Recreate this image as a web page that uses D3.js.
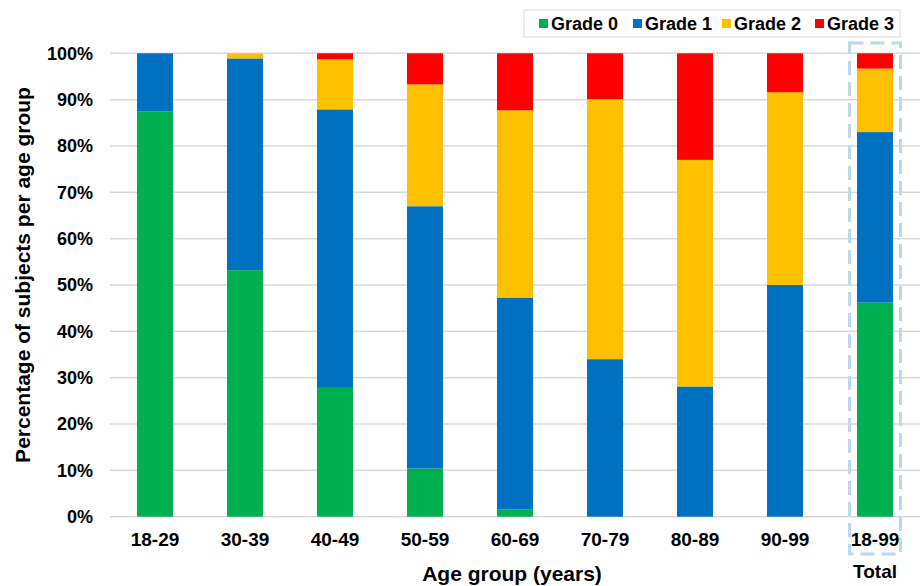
<!DOCTYPE html>
<html>
<head>
<meta charset="utf-8">
<script src="https://cdn.jsdelivr.net/npm/d3@7"></script>
<style>
  html, body { margin: 0; padding: 0; background: #fff; }
  svg { display: block; font-family: "Liberation Sans", Arial, sans-serif; }
</style>
</head>
<body>
<svg id="chart" width="921" height="586"></svg>
<script>
// ---- data ----
const categories = ["18-29", "30-39", "40-49", "50-59", "60-69", "70-79", "80-89", "90-99", "18-99"];
const seriesNames = ["Grade 0", "Grade 1", "Grade 2", "Grade 3"];
const grade0 = [87.5, 53.2, 27.8, 10.4, 1.6, 0, 0, 0, 46.2];
const grade1 = [12.5, 45.7, 60.1, 56.6, 45.7, 34.0, 28.1, 50.0, 36.8];
const grade2 = [0, 1.1, 10.8, 26.3, 40.4, 56.1, 48.9, 41.6, 13.7];
const grade3 = [0, 0, 1.3, 6.7, 12.3, 9.9, 23.0, 8.4, 3.3];
const yTicks = [0, 10, 20, 30, 40, 50, 60, 70, 80, 90, 100];
const colors = ["#00B050", "#0070C0", "#FFC000", "#FF0000"];
const xTitle = "Age group (years)";
const yTitle = "Percentage of subjects per age group";
const totalLabel = "Total";

(function () {
// ---- build table ----
const rows = categories.map((c, i) => ({
  cat: c, "Grade 0": grade0[i], "Grade 1": grade1[i], "Grade 2": grade2[i], "Grade 3": grade3[i]
}));
const stacked = d3.stack().keys(seriesNames)(rows);

const svg = d3.select("#chart");
const pLeft = 110, pRight = 920, pTop = 53.3, pBottom = 516.7;

const x = d3.scaleBand().domain(categories).range([pLeft, pRight]).paddingInner(0.6).paddingOuter(0.3);
const y = d3.scaleLinear().domain([0, 100]).range([pBottom, pTop]);
const color = d3.scaleOrdinal().domain(seriesNames).range(colors);

// gridlines
svg.append("g")
  .selectAll("line").data(yTicks).join("line")
  .attr("x1", pLeft).attr("x2", pRight)
  .attr("y1", d => y(d)).attr("y2", d => y(d))
  .attr("stroke", "#d9d9d9").attr("stroke-width", 1.5);

// bars
svg.append("g").selectAll("g").data(stacked).join("g")
  .attr("fill", d => color(d.key))
  .selectAll("rect").data(d => d).join("rect")
  .attr("x", d => x(d.data.cat))
  .attr("width", x.bandwidth())
  .attr("y", d => y(d[1]))
  .attr("height", d => Math.max(0, y(d[0]) - y(d[1])));

// y axis
const yAxis = d3.axisLeft(y).tickValues(yTicks).tickFormat(d => d + "%").tickSize(0).tickPadding(17);
const yg = svg.append("g").attr("transform", `translate(${pLeft},0)`).call(yAxis);
yg.select(".domain").remove();
yg.selectAll("text").attr("font-size", 18).attr("font-weight", "bold").attr("fill", "#000")
  .attr("font-family", "Liberation Sans, Arial, sans-serif");

// x axis
const xAxis = d3.axisBottom(x).tickSize(0).tickPadding(16);
const xg = svg.append("g").attr("transform", `translate(0,${pBottom})`).call(xAxis);
xg.select(".domain").remove();
xg.selectAll("text").attr("font-size", 19).attr("font-weight", "bold").attr("fill", "#000")
  .attr("font-family", "Liberation Sans, Arial, sans-serif");

// total label
const lastCat = categories[categories.length - 1];
svg.append("text")
  .attr("x", x(lastCat) + x.bandwidth() / 2).attr("y", 578)
  .attr("text-anchor", "middle").attr("font-size", 19).attr("font-weight", "bold")
  .text(totalLabel);

// dashed box around total
svg.append("rect")
  .attr("x", x(lastCat) - 7.5).attr("y", 43)
  .attr("width", x.bandwidth() + 15).attr("height", 554 - 43)
  .attr("fill", "none").attr("stroke", "#bdd7ee").attr("stroke-width", 3)
  .attr("stroke-dasharray", "14,7");

// axis titles
svg.append("text")
  .attr("x", (pLeft + pRight) / 2 - 3).attr("y", 581)
  .attr("text-anchor", "middle").attr("font-size", 21).attr("font-weight", "bold")
  .text(xTitle);
svg.append("text")
  .attr("transform", `translate(30,${(pTop + pBottom) / 2 - 10}) rotate(-90)`)
  .attr("text-anchor", "middle").attr("font-size", 21).attr("font-weight", "bold")
  .text(yTitle);

// legend
const lg = svg.append("g");
lg.append("rect").attr("x", 524).attr("y", 10).attr("width", 376).attr("height", 27)
  .attr("fill", "#fff").attr("stroke", "#d9d9d9").attr("stroke-width", 1);
const legendX = [539, 633, 722, 815];
const items = lg.selectAll("g.item").data(seriesNames).join("g").attr("class", "item")
  .attr("transform", (d, i) => `translate(${legendX[i]},0)`);
items.append("rect").attr("x", 0).attr("y", 19).attr("width", 9).attr("height", 9)
  .attr("fill", d => color(d));
items.append("text").attr("x", 12).attr("y", 30)
  .attr("font-size", 18).attr("font-weight", "bold").text(d => d);
})();
</script>
</body>
</html>
